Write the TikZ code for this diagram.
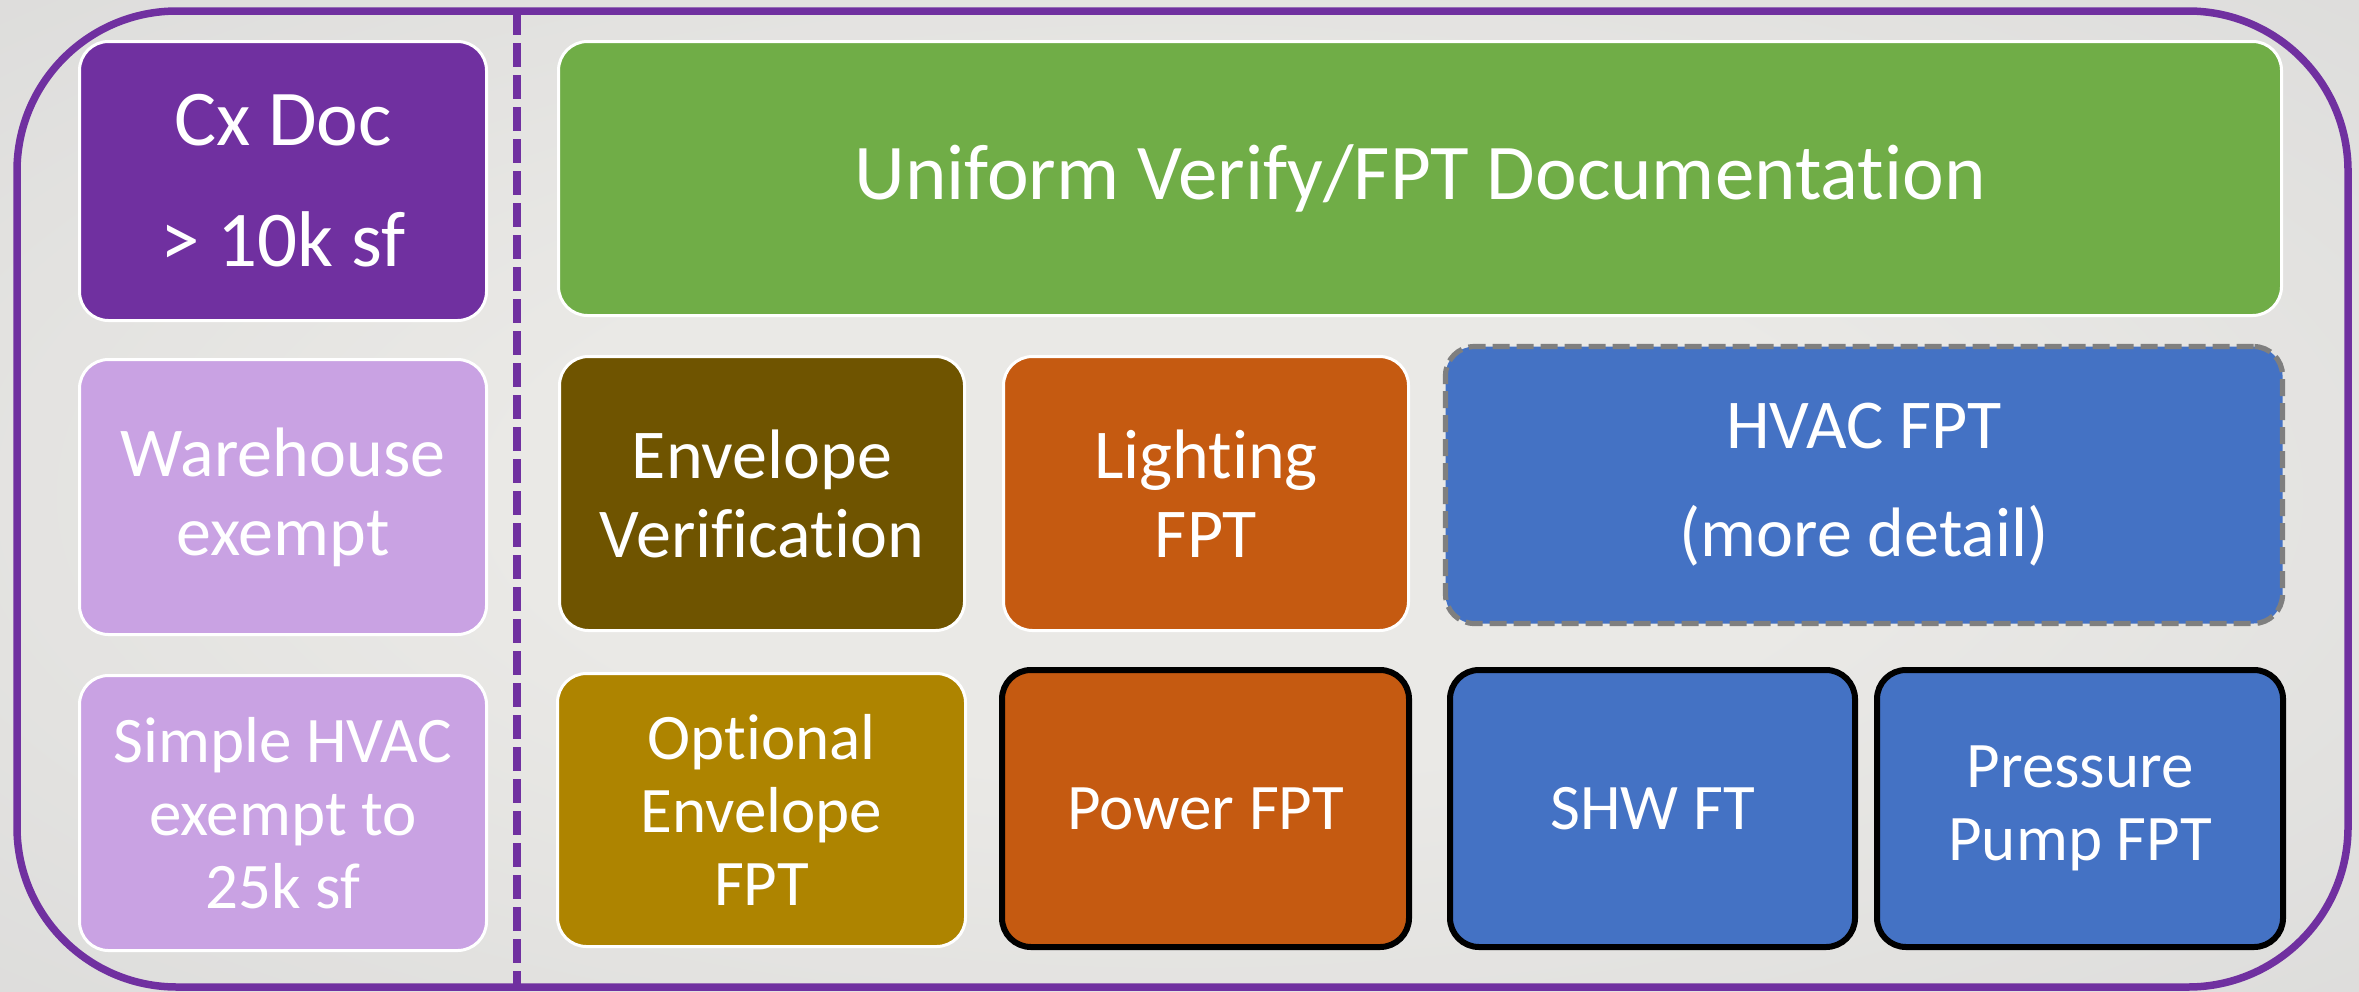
\documentclass[tikz,border=0pt]{standalone}
\usepackage{fontspec}
\setmainfont{Carlito}[Ligatures=NoCommon]

\definecolor{bgin}{HTML}{EAE9E6}
\definecolor{bgout}{HTML}{D2D2D2}
\definecolor{framepurple}{HTML}{7030A0}
\definecolor{lavender}{HTML}{C9A2E3}
\definecolor{leafgreen}{HTML}{70AD47}
\definecolor{darkolive}{HTML}{6F5400}
\definecolor{mustard}{HTML}{AE8400}
\definecolor{burntorange}{HTML}{C55A11}
\definecolor{steelblue}{HTML}{4472C4}
\definecolor{edgegray}{HTML}{7F7F7F}

\pgfdeclareradialshading{slidebg}{\pgfpoint{0bp}{0bp}}{%
  color(0bp)=(bgin); color(14bp)=(bgin); color(55bp)=(bgout); color(75bp)=(bgout)}

\tikzset{
  tile/.style={rectangle, rounded corners=14.5pt, align=center, text=white,
    inner sep=0pt, outer sep=0pt},
  whiteedge/.style={tile, draw=white, line width=1.5pt},
  blackedge/.style={tile, draw=black, line width=3pt},
  grayedge/.style={tile, draw=edgegray, line width=2.6pt,
    dash pattern=on 8.5pt off 3.5pt},
  bigtext/.style={font=\fontsize{39.5}{60.5}\selectfont},
  midtext/.style={font=\fontsize{35}{39.5}\selectfont},
  hvactext/.style={font=\fontsize{35}{54}\selectfont},
  smalltext/.style={font=\fontsize{32.5}{36.5}\selectfont},
  divider/.style={draw=framepurple, line width=3.75pt,
    dash pattern=on 12pt off 4pt},
  outline/.style={draw=framepurple, line width=3.75pt, rounded corners=80pt},
}

\begin{document}
\begin{tikzpicture}[x=0.5pt, y=-0.5pt]
  \useasboundingbox (0,0) rectangle (2359,991);
  % slide background
  \fill[shading=slidebg] (0,0) rectangle (2359,991);

  % column divider and outer frame
  \coordinate (divtop) at (517,11);
  \coordinate (divbot) at (517,987);
  \draw[divider] (divtop) -- (divbot);
  \draw[outline] (17,11) rectangle (2348,987);

  % left column
  \node[whiteedge, bigtext, fill=framepurple, minimum width=203.5pt, minimum height=139.5pt]
    (cxdoc) at (283,181) {Cx Doc\\> 10k sf};
  \node[whiteedge, midtext, fill=lavender, minimum width=203.5pt, minimum height=137.5pt]
    (warehouse) at (283,497) {Warehouse\\exempt};
  \node[whiteedge, smalltext, fill=lavender, minimum width=203.5pt, minimum height=137.5pt]
    (simplehvac) at (283,813) {Simple HVAC\\exempt to\\25k sf};

  % top banner
  \node[whiteedge, bigtext, fill=leafgreen, minimum width=861.5pt, minimum height=137pt]
    (uniform) at (1420,178.5) {Uniform Verify/FPT Documentation};

  % middle row
  \node[whiteedge, midtext, fill=darkolive, minimum width=202.5pt, minimum height=137pt]
    (envver) at (762,493.5) {Envelope\\Verification};
  \node[whiteedge, midtext, fill=burntorange, minimum width=202.5pt, minimum height=137pt]
    (lighting) at (1206,493.5) {Lighting\\FPT};
  \node[grayedge, hvactext, fill=steelblue, minimum width=418.5pt, minimum height=138.5pt]
    (hvac) at (1864,485) {HVAC FPT\\(more detail)};

  % bottom row
  \node[whiteedge, smalltext, fill=mustard, minimum width=204pt, minimum height=136.5pt]
    (optenv) at (761.5,810) {Optional\\Envelope\\FPT};
  \node[blackedge, smalltext, fill=burntorange, minimum width=203.5pt, minimum height=138.5pt]
    (power) at (1205.5,808.5) {Power FPT};
  \node[blackedge, smalltext, fill=steelblue, minimum width=202.5pt, minimum height=138.5pt]
    (shw) at (1652.5,808.5) {SHW FT};
  \node[blackedge, smalltext, fill=steelblue, minimum width=203pt, minimum height=138.5pt]
    (pressure) at (2080,808.5) {Pressure\\Pump FPT};
\end{tikzpicture}
\end{document}
